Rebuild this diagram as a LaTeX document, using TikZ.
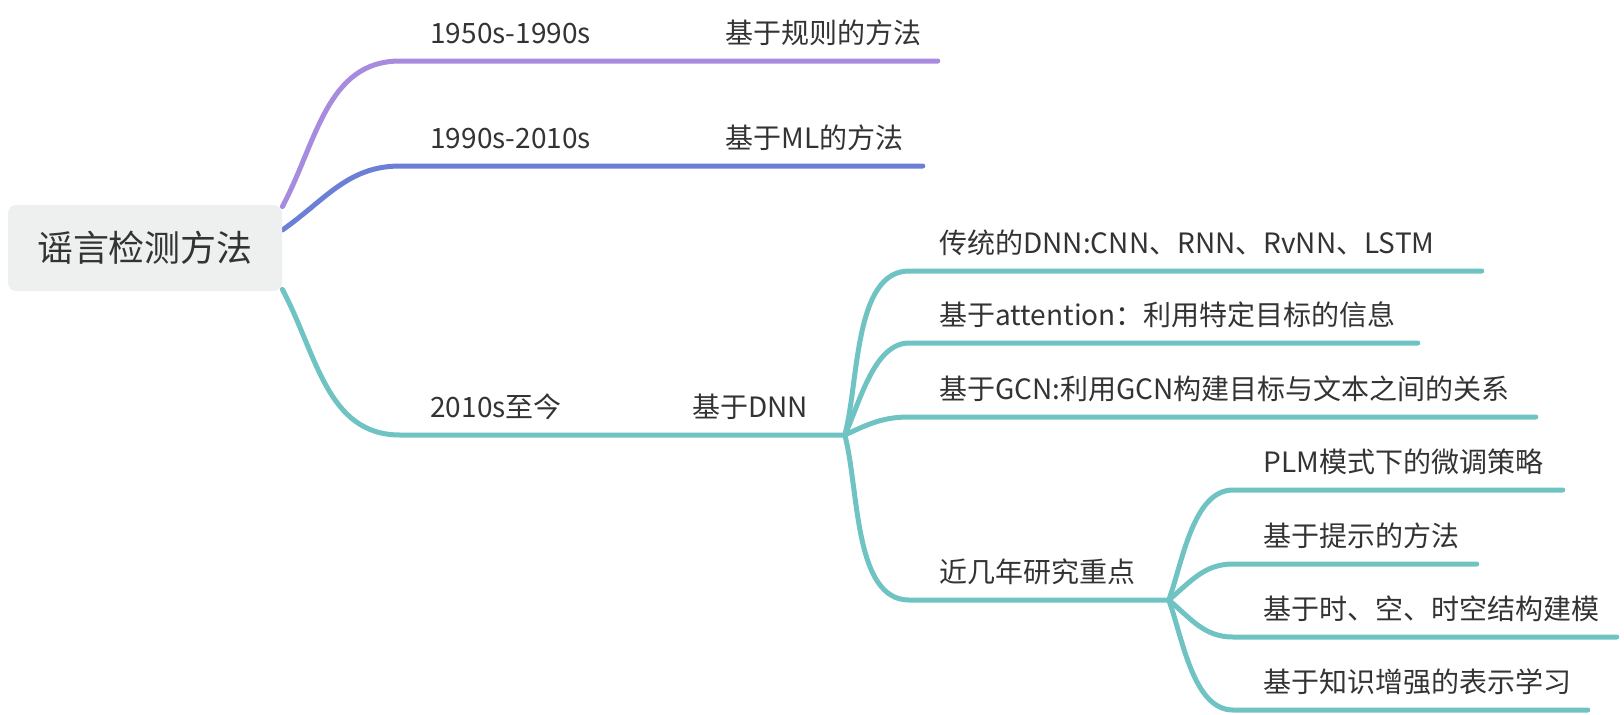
\documentclass[tikz,border=0pt]{standalone}
\usepackage{fontspec}
\setmainfont{Noto Sans CJK SC}
\usetikzlibrary{backgrounds}
\definecolor{MapPurple}{HTML}{A78BDF}
\definecolor{MapBlue}{HTML}{6C7FD6}
\definecolor{MapTeal}{HTML}{6FC3C3}
\definecolor{MapGrey}{HTML}{EEF0EF}
\definecolor{MapInk}{HTML}{333333}

\begin{document}
\begin{tikzpicture}[
  x=0.5pt,
  y=-0.5pt,
  font=\fontsize{14pt}{17pt}\selectfont,
  rootbox/.style={
    fill=MapGrey,
    rounded corners=4pt,
    minimum width=137pt,
    minimum height=43pt,
    text=MapInk,
    font=\fontsize{18pt}{22pt}\selectfont
  },
  topic/.style={
    anchor=south west,
    inner xsep=15pt,
    inner ysep=6.4pt,
    text height=0.85em,
    text depth=0.2em,
    text width=#1,
    align=left,
    text=MapInk
  },
  mapline/.style={line width=2.5pt, line cap=round, line join=round},
  purpleline/.style={mapline, draw=MapPurple},
  blueline/.style={mapline, draw=MapBlue},
  tealline/.style={mapline, draw=MapTeal}
]
\useasboundingbox (0,0) rectangle (1624,714);

\node[rootbox] (root) at (145,248) {谣言检测方法};

\node[topic=117.5pt] (p1950) at (400,61) {1950s-1990s};
\node[topic=91pt] (rule) at (695,61) {基于规则的方法};
\node[topic=117.5pt] (p1990) at (400,166) {1990s-2010s};
\node[topic=83.5pt] (ml) at (695,166) {基于ML的方法};
\node[topic=101pt] (p2010) at (400,435) {2010s至今};
\node[topic=61pt] (dnn) at (662,435) {基于DNN};

\node[topic=256pt] (trad) at (909,271) {传统的DNN:CNN、RNN、RvNN、LSTM};
\node[topic=224pt] (attn) at (909,343) {基于attention：利用特定目标的信息};
\node[topic=283pt] (gcn) at (909,417) {基于GCN:利用GCN构建目标与文本之间的关系};
\node[topic=99.5pt] (recent) at (909,600) {近几年研究重点};

\node[topic=134.5pt] (plm) at (1233,490) {PLM模式下的微调策略};
\node[topic=91.5pt] (prompt) at (1233,564) {基于提示的方法};
\node[topic=161.5pt] (spatial) at (1233,637) {基于时、空、时空结构建模};
\node[topic=147pt] (know) at (1233,710) {基于知识增强的表示学习};

\begin{scope}[on background layer]
\draw[purpleline] ([yshift=-1pt]root.north east) to[out=62,in=180] (p1950.south west) -- (rule.south east);
\draw[blueline] ([yshift=9pt]root.east) to[out=35,in=180] (p1990.south west) -- (ml.south east);
\draw[tealline] ([yshift=1pt]root.south east) to[out=-62,in=180] (p2010.south west) -- (dnn.south east);

\draw[tealline] (dnn.south east) to[out=75,in=180,looseness=0.8] (trad.south west) -- (trad.south east);
\draw[tealline] (dnn.south east) to[out=65,in=180,looseness=0.8] (attn.south west) -- (attn.south east);
\draw[tealline] (dnn.south east) to[out=25,in=180] (gcn.south west) -- (gcn.south east);
\draw[tealline] (dnn.south east) to[out=-75,in=180,looseness=0.8] (recent.south west) -- (recent.south east);

\draw[tealline] (recent.south east) to[out=70,in=180,looseness=0.8] (plm.south west) -- (plm.south east);
\draw[tealline] (recent.south east) to[out=40,in=180] (prompt.south west) -- (prompt.south east);
\draw[tealline] (recent.south east) to[out=-40,in=180] (spatial.south west) -- (spatial.south east);
\draw[tealline] (recent.south east) to[out=-70,in=180,looseness=0.8] (know.south west) -- (know.south east);
\end{scope}
\end{tikzpicture}
\end{document}
